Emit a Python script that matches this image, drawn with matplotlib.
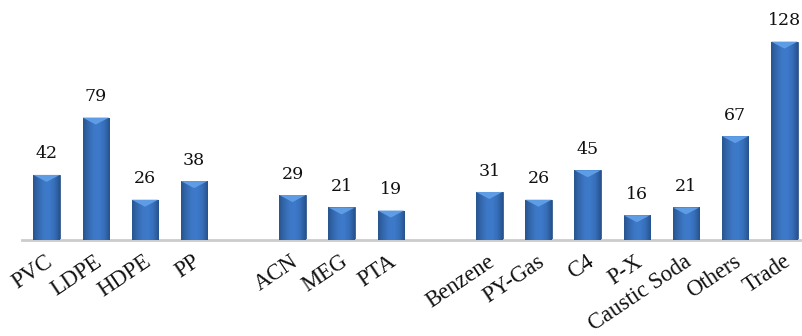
import matplotlib
matplotlib.use("Agg")
import matplotlib.pyplot as plt
import matplotlib.transforms as mtransforms
import numpy as np
from matplotlib.colors import LinearSegmentedColormap
from matplotlib.patches import Polygon

# 产品分组（组间空一格）
polymers = ["PVC", "LDPE", "HDPE", "PP"]
polymer_vals = [42, 79, 26, 38]
fibres = ["ACN", "MEG", "PTA"]
fibre_vals = [29, 21, 19]
others = ["Benzene", "PY-Gas", "C4", "P-X", "Caustic Soda", "Others", "Trade"]
other_vals = [31, 26, 45, 16, 21, 67, 128]

plt.rcParams["font.family"] = ["DejaVu Serif"]

labels, values, xpos = [], [], []
slot = 0
for names, vals in [(polymers, polymer_vals), (fibres, fibre_vals), (others, other_vals)]:
    for n, v in zip(names, vals):
        labels.append(n)
        values.append(v)
        xpos.append(slot)
        slot += 1
    slot += 1  # 组间空位

W, H = 802, 336
fig = plt.figure(figsize=(W / 100, H / 100), dpi=100)
ymax = 140
ax = fig.add_axes([22 / W, (H - 240) / H, 787 / W, ymax * 1.55 / H])

bw = 0.54
shade = LinearSegmentedColormap.from_list(
    "bar", ["#28558f", "#3469b0", "#3d78c6", "#3e7acb", "#366eb8", "#27538e"])
grad = np.linspace(0, 1, 64).reshape(1, -1)
bevel = 7 / 1.55  # 顶部斜面高度（约7像素）

for x, v in zip(xpos, values):
    rect = ax.bar(x, v, width=bw, color="#3a72bc", edgecolor="#24497a",
                  linewidth=0.5, zorder=2)[0]
    im = ax.imshow(grad, cmap=shade, aspect="auto", zorder=3,
                   extent=(x - bw / 2, x + bw / 2, 0, v))
    im.set_clip_path(rect)
    tri = Polygon([(x - bw / 2, v), (x + bw / 2, v), (x, v - bevel)],
                  closed=True, facecolor="#5e9de6", edgecolor="none", zorder=4)
    ax.add_patch(tri)
    ax.text(x, v + 8, str(v), ha="center", va="bottom", fontsize=12.5,
            color="#111111", zorder=5)

ax.set_xlim(-0.5, 15.5)
ax.set_ylim(0, ymax)

# 斜排的类别标签，右上角对准柱子中心
base = mtransforms.blended_transform_factory(ax.transData, ax.transAxes)
offset = mtransforms.ScaledTranslation(-2 / 100, -11 / 100, fig.dpi_scale_trans)
for x, name in zip(xpos, labels):
    ax.text(x, 0, name, transform=base + offset, rotation=34,
            rotation_mode="anchor", ha="right", va="top", fontsize=16.3,
            color="#111111", family="Liberation Serif", clip_on=False)

ax.set_xticks([])
ax.set_yticks([])
for s in ["top", "right", "left"]:
    ax.spines[s].set_visible(False)
ax.spines["bottom"].set_color("#cccccc")
ax.spines["bottom"].set_linewidth(2)

fig.savefig("out.png", dpi=100)
